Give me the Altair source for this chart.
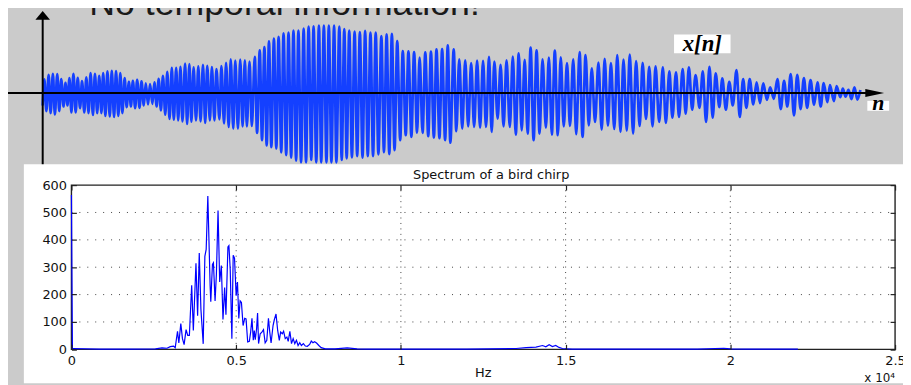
import altair as alt
import pandas as pd

# ---------------- top waveform x[n]: upper peaks and lower troughs
peak_n = [1.7, 6.0, 10.3, 14.7, 18.7, 23.0, 27.0, 31.0, 35.3, 39.7, 44.0, 48.3, 52.7, 57.0, 61.0, 65.3,
          69.7, 74.0, 78.3, 82.7, 87.0, 91.0, 95.3, 99.7, 104.0, 108.3, 112.7, 117.0, 121.3, 125.7, 130.3,
          134.7, 139.0, 143.7, 148.0, 152.3, 157.0, 161.7, 166.0, 170.7, 175.3, 180.3, 185.0, 189.7, 194.3,
          199.3, 204.0,
          208.7, 214.0, 219.0, 223.7, 228.3, 233.3, 238.0, 243.0, 248.0, 253.0, 258.0, 263.3, 268.3, 273.3,
          278.7, 283.7, 288.7, 294.0, 299.3, 304.3, 309.3, 314.7, 320.0, 325.3, 330.7, 336.0, 341.7, 347.0,
          352.3, 357.7, 363.3, 369.0, 374.7, 380.3, 386.0, 391.7, 397.3, 403.0, 408.7,
          414.7, 420.3, 426.3, 432.3, 438.3, 444.3, 450.3, 455.7, 462.0, 468.0, 474.3, 480.3, 486.3, 492.3,
          498.3, 504.3, 510.7, 516.7, 522.7, 529.0, 535.3, 541.7, 547.7, 554.0, 560.7, 567.0, 573.3, 579.7,
          586.0, 592.3, 598.7, 605.3, 612.0, 618.3,
          625.7, 632.3, 639.0, 645.7, 652.0, 658.7, 666.0, 672.7, 679.0, 685.7, 692.7, 700.0, 706.7, 713.3,
          720.3, 727.0, 734.0, 741.3, 748.0, 754.7, 761.3, 768.0, 774.7, 781.7, 788.0, 794.3, 801.0, 807.3,
          813.0, 819.0, 825.0]
peak_amp = [13.7, 18.3, 19.3, 19.0, 14.0, 10.3, 15.0, 19.3, 15.3, 12.0, 15.7, 20.0, 19.3, 17.3, 20.0, 21.7,
            22.3, 22.0, 20.0, 15.0, 11.3, 12.3, 13.3, 11.7, 9.7, 9.0, 10.7, 14.3, 17.3, 21.3, 25.3,
            25.3, 26.3, 29.7, 29.0, 25.7, 26.7, 28.3, 27.3, 26.0, 24.0, 27.0, 30.3, 34.0, 32.7,
            33.7, 33.0,
            31.7, 36.3, 43.0, 46.3, 52.0, 54.7, 56.7, 60.0, 61.0, 63.0, 63.0, 65.0, 67.0, 67.3,
            68.0, 68.0, 68.0, 68.0, 67.0, 64.3, 63.0, 62.0, 61.3, 62.7, 61.0, 61.0, 57.3, 59.0,
            59.7, 52.3, 42.3, 42.0, 41.3, 35.7, 41.0, 41.7, 44.0, 44.3, 48.0,
            44.0, 34.0, 33.0, 30.0, 32.7, 32.3, 36.3, 31.7, 28.3, 33.0, 36.7, 40.0, 33.3, 45.7,
            43.0, 34.0, 35.7, 42.7, 36.0, 30.0, 34.0, 41.3, 38.3, 24.7, 30.7, 34.3, 30.0, 38.3,
            33.7, 38.7, 32.0, 30.3, 26.3, 26.7,
            25.7, 21.7, 20.7, 24.0, 25.7, 18.0, 21.7, 26.3, 19.7, 14.7, 11.3, 23.0, 14.0, 14.0,
            10.7, 9.7, 5.7, 14.0, 12.3, 19.0, 18.3, 15.0, 13.0, 10.7, 10.0, 8.0, 7.0, 4.3,
            3.0, 5.7, 3.0]
trough_n = [0.0, 3.7, 8.0, 12.3, 16.7, 21.0, 25.0, 29.0, 33.3, 37.7, 42.0, 46.3, 50.7, 55.0, 59.3, 63.3,
            67.7, 72.0, 76.3, 80.3, 84.7, 89.0, 93.3, 97.7, 102.0, 106.3, 110.7, 115.0, 119.3, 123.7, 128.0,
            132.3, 136.7, 141.0, 145.7, 150.0, 154.7, 159.3, 164.0, 168.7, 173.3, 178.3, 183.0, 187.7, 192.3,
            197.0, 201.7,
            206.0, 211.0, 216.3, 221.3, 226.0, 230.7, 235.7, 240.7, 245.7, 250.7, 255.7, 260.7, 265.7, 271.0,
            276.0, 281.0, 286.3, 291.3, 296.3, 301.7, 306.7, 312.0, 317.3, 322.7, 328.0, 333.3, 338.7, 344.3,
            349.7, 355.0, 360.7, 366.3, 372.0, 377.7, 383.3, 389.0, 394.7, 400.3, 406.0, 411.3,
            417.3, 423.3, 429.3, 435.3, 441.3, 447.3, 453.0, 459.0, 465.0, 471.3, 477.3, 483.3, 489.3, 495.3,
            501.3, 507.7, 513.7, 519.7, 525.7, 532.0, 538.3, 544.7, 551.0, 557.3, 564.0, 570.3, 576.7, 583.0,
            589.3, 595.7, 602.3, 608.7, 615.3,
            622.0, 628.7, 635.3, 642.0, 648.7, 655.3, 662.7, 669.3, 676.0, 682.7, 689.3, 696.3, 703.3, 710.0,
            717.0, 723.7, 730.7, 737.7, 744.7, 751.3, 758.0, 764.7, 771.3, 778.3, 785.0, 791.7, 798.3, 804.7,
            810.0, 816.0, 822.0]
trough_amp = [12.7, 18.3, 20.3, 21.7, 18.3, 13.7, 12.7, 19.7, 19.7, 15.3, 19.7, 20.3, 22.3, 20.3, 20.3, 23.3,
              23.7, 24.3, 23.3, 20.3, 14.3, 13.7, 15.3, 15.0, 12.7, 11.7, 11.0, 13.7, 17.7, 22.0, 26.3,
              27.0, 27.7, 28.7, 31.3, 29.0, 27.7, 28.7, 30.3, 27.7, 27.7, 26.7, 30.7, 34.3, 36.0,
              36.0, 33.7,
              33.7, 33.3, 40.3, 47.7, 53.0, 54.7, 56.0, 60.0, 62.7, 65.3, 68.3, 70.0, 70.0, 67.7,
              70.0, 70.0, 70.0, 70.0, 70.0, 67.7, 66.0, 65.0, 63.7, 65.3, 63.7, 63.7, 62.0, 59.7,
              61.7, 57.7, 47.7, 42.7, 44.3, 40.0, 40.3, 43.7, 45.0, 45.7, 47.7, 50.3,
              38.7, 36.0, 33.7, 34.3, 35.0, 34.3, 39.3, 26.0, 33.7, 34.3, 42.0, 37.7, 41.0, 47.7,
              41.0, 35.0, 42.0, 42.7, 33.7, 33.3, 41.7, 44.3, 32.7, 29.3, 37.0, 33.0, 36.3, 39.3,
              38.0, 41.0, 33.3, 26.3, 33.7,
              29.3, 30.3, 25.0, 24.3, 21.0, 17.0, 15.0, 29.3, 25.0, 14.3, 17.0, 12.7, 24.3, 15.0,
              11.7, 10.3, 7.0, 6.0, 16.3, 13.7, 22.7, 16.3, 15.0, 12.0, 13.7, 9.3, 8.3, 4.3,
              3.7, 6.3, 6.7]

# ---------------- spectrum of a bird chirp
spec_hz = [0, 30, 60, 840, 1850, 2550, 2750, 2900, 3000, 3100, 3150, 3220, 3260, 3320, 3370, 3420,
           3480, 3530, 3580, 3650, 3700, 3780, 3830, 3880, 3930, 4000, 4050, 4090, 4140, 4210, 4230,
           4280, 4310, 4360, 4400, 4450, 4500, 4550, 4600, 4650, 4690, 4750, 4780, 4820, 4870, 4910,
           4950, 5000, 5040, 5080, 5120, 5160, 5210, 5260, 5300, 5350, 5400, 5440, 5480, 5520, 5550,
           5580, 5620, 5650, 5680, 5730, 5780, 5830, 5880, 5930, 5980, 6020, 6060, 6120, 6160, 6210,
           6260, 6310, 6350, 6400, 6440, 6490, 6540, 6580, 6630, 6680, 6730, 6780, 6830, 6880, 6930,
           6980, 7040, 7100, 7160, 7230, 7280, 7330, 7380, 7440, 7510, 7580, 7710, 8000, 8370, 8670,
           9000, 10000, 12000, 13500, 13800, 14100, 14300, 14400, 14500, 14600, 14700, 14800, 14900,
           15200, 17000, 19000, 19800, 20000, 20500, 22050]
spec_mag = [564, 2, 3, 1, 1, 2, 5, 4, 10, 12, 6, 66, 23, 94, 39, 17,
            72, 51, 51, 234, 69, 314, 123, 352, 147, 20, 340, 365, 560, 232, 174,
            310, 316, 177, 274, 507, 246, 306, 109, 226, 126, 374, 379, 292, 39, 344,
            333, 196, 246, 113, 177, 171, 87, 113, 111, 27, 29, 63, 113, 33, 69,
            35, 75, 133, 21, 57, 63, 72, 24, 33, 113, 63, 23, 87, 109, 129,
            69, 33, 63, 57, 66, 39, 45, 29, 66, 21, 39, 21, 33, 14, 24,
            14, 21, 12, 11, 18, 30, 24, 28, 23, 14, 6, 2, 2, 5, 2,
            1, 1, 1, 3, 6, 8, 14, 9, 17, 10, 14, 7, 3,
            1, 1, 1, 4, 2, 1, 1]

x_ticks_hz = [0, 5000, 10000, 15000, 20000, 25000]
y_ticks = [0, 100, 200, 300, 400, 500, 600]
grid_x_hz = [5000, 10000, 15000, 20000]
grid_y = [100, 200, 300, 400, 500]
x_range_hz = [0, 25000]
y_range = [0, 600]

slide_title = "– No temporal information!"
plot_title = "Spectrum of a bird chirp"
x_label = "Hz"
x_exp = "x 10⁴"

# ---------------- tables
wave = pd.DataFrame({"n": peak_n + trough_n,
                     "x": peak_amp + [-a for a in trough_amp]}).sort_values("n")
spec = pd.DataFrame({"hz": spec_hz, "mag": spec_mag})
zero = pd.DataFrame({"v": [0]})

W, H = 903, 377
wx = alt.Scale(domain=[0, 825], range=[35, 860])
wy = alt.Scale(domain=[-70, 70], range=[154, 14])
sx = alt.Scale(domain=x_range_hz, range=[64, 895])
sy = alt.Scale(domain=y_range, range=[342.7, 177])

FONT = "DejaVu Sans"
BLUE_W = "#1440ff"

title_top = alt.Chart(pd.DataFrame({"t": [slide_title]})).mark_text(
    font="Liberation Sans", fontSize=36, align="left", baseline="alphabetic", color="#1a1a1a"
).encode(x=alt.value(52), y=alt.value(5), text="t:N")

wave_line = alt.Chart(wave).mark_line(color=BLUE_W, strokeWidth=2.7, interpolate="monotone").encode(
    x=alt.X("n:Q", scale=wx, axis=None), y=alt.Y("x:Q", scale=wy, axis=None))

h_axis = alt.Chart(zero).mark_rule(color="black", strokeWidth=2).encode(
    y=alt.Y("v:Q", scale=wy, axis=None), x=alt.value(0), x2=alt.value(868))
h_arrow = alt.Chart(zero).mark_point(shape="M-1,-0.42L1,0L-1,0.42Z", size=361, filled=True,
                                     color="black", opacity=1, strokeWidth=0).encode(
    y=alt.Y("v:Q", scale=wy, axis=None), x=alt.value(874.5))
v_axis = alt.Chart(zero).mark_rule(color="black", strokeWidth=2).encode(
    x=alt.X("v:Q", scale=wx, axis=None), y=alt.value(8), y2=alt.value(157))
v_arrow = alt.Chart(zero).mark_point(shape="M-1,0.61L0,-0.61L1,0.61Z", size=216, filled=True,
                                     color="black", opacity=1, strokeWidth=0).encode(
    x=alt.X("v:Q", scale=wx, axis=None), y=alt.value(5.7))

xn_box = alt.Chart(zero).mark_rect(color="white").encode(
    x=alt.value(672), x2=alt.value(729), y=alt.value(25), y2=alt.value(44))
xn_text = alt.Chart(pd.DataFrame({"t": ["x[n]"]})).mark_text(
    font="Liberation Serif", fontStyle="italic", fontWeight="bold", fontSize=23,
    align="center", baseline="middle", color="black").encode(
    x=alt.value(700.5), y=alt.value(35), text="t:N")
n_box = alt.Chart(zero).mark_rect(color="white").encode(
    x=alt.value(867), x2=alt.value(889), y=alt.value(92), y2=alt.value(102))
n_text = alt.Chart(pd.DataFrame({"t": ["n"]})).mark_text(
    font="Liberation Serif", fontStyle="italic", fontWeight="bold", fontSize=22,
    align="center", baseline="alphabetic", color="black").encode(
    x=alt.value(878), y=alt.value(101), text="t:N")

panel = alt.Chart(zero).mark_rect(color="white").encode(
    x=alt.value(16), x2=alt.value(W), y=alt.value(156), y2=alt.value(H))

hgrid = alt.Chart(pd.DataFrame({"g": grid_y, "lo": x_range_hz[0], "hi": x_range_hz[1]})).mark_rule(
    color="#444444", strokeDash=[1, 7], strokeWidth=1).encode(
    y=alt.Y("g:Q", scale=sy, axis=None),
    x=alt.X("lo:Q", scale=sx, axis=None), x2="hi:Q")

tick_axis = dict(labels=False, domain=False, grid=False, ticks=True, tickSize=5, zindex=2,
                 tickColor="#222222", tickWidth=1.2, title=None)
vgrid = alt.Chart(pd.DataFrame({"g": grid_x_hz, "lo": y_range[0], "hi": y_range[1]})).mark_rule(
    color="#444444", strokeDash=[1, 4.5], strokeWidth=1).encode(
    x=alt.X("g:Q", scale=sx, axis=alt.Axis(orient="bottom", offset=-200, values=x_ticks_hz, **tick_axis)),
    y=alt.Y("lo:Q", scale=sy, axis=alt.Axis(orient="left", offset=-895, values=y_ticks, **tick_axis)),
    y2="hi:Q")

frame = alt.Chart(pd.DataFrame({"x0": [x_range_hz[0]], "x1": [x_range_hz[1]],
                                "y0": [y_range[0]], "y1": [y_range[1]]})).mark_rect(
    filled=False, stroke="#222222", strokeWidth=1.4).encode(
    x=alt.X("x0:Q", scale=sx, axis=alt.Axis(orient="top", offset=-342.7, values=x_ticks_hz, **tick_axis)),
    x2="x1:Q",
    y=alt.Y("y0:Q", scale=sy, axis=alt.Axis(orient="right", offset=-839, values=y_ticks, **tick_axis)),
    y2="y1:Q")

label_axis = dict(ticks=False, domain=False, grid=False, title=None, labelFont=FONT, zindex=2,
                  labelFontSize=13, labelColor="#111111", labelOverlap=False, labelFlush=False)
spec_line = alt.Chart(spec).mark_line(color="#0000ff", strokeWidth=1.2).encode(
    x=alt.X("hz:Q", scale=sx, axis=alt.Axis(orient="bottom", offset=-34.3, values=x_ticks_hz,
                                           labelExpr="datum.value / 10000", labelPadding=5, **label_axis)),
    y=alt.Y("mag:Q", scale=sy, axis=alt.Axis(orient="left", offset=-64, values=y_ticks,
                                            labelPadding=5, **label_axis)))

texts = pd.DataFrame({"hz": [sum(x_range_hz) / 2, sum(x_range_hz) / 2, x_range_hz[1]],
                      "mag": [y_range[1], y_range[0], y_range[0]],
                      "t": [plot_title, x_label, x_exp]})
t_title = alt.Chart(texts.iloc[[0]]).mark_text(font=FONT, fontSize=13, baseline="alphabetic",
                                               dx=8, dy=-6, color="#111111").encode(
    x=alt.X("hz:Q", scale=sx, axis=None), y=alt.Y("mag:Q", scale=sy, axis=None), text="t:N")
t_hz = alt.Chart(texts.iloc[[1]]).mark_text(font=FONT, fontSize=13, baseline="alphabetic",
                                            dy=28, color="#111111").encode(
    x=alt.X("hz:Q", scale=sx, axis=None), y=alt.Y("mag:Q", scale=sy, axis=None), text="t:N")
t_exp = alt.Chart(texts.iloc[[2]]).mark_text(font=FONT, fontSize=12, baseline="alphabetic", align="left",
                                             dx=-31, dy=33, color="#111111").encode(
    x=alt.X("hz:Q", scale=sx, axis=None), y=alt.Y("mag:Q", scale=sy, axis=None), text="t:N")

chart = alt.layer(
    title_top, wave_line, h_axis, h_arrow, v_axis, v_arrow, xn_box, xn_text, n_box, n_text,
    panel, hgrid, vgrid, frame, spec_line, t_title, t_hz, t_exp
).resolve_scale(x="independent", y="independent").properties(
    width=W, height=H, padding=0, autosize=alt.AutoSizeParams(type="none"),
    background="#cbcbcb"
).configure_view(stroke=None)

chart.save("out.html", embed_options={"renderer": "svg", "actions": False})
